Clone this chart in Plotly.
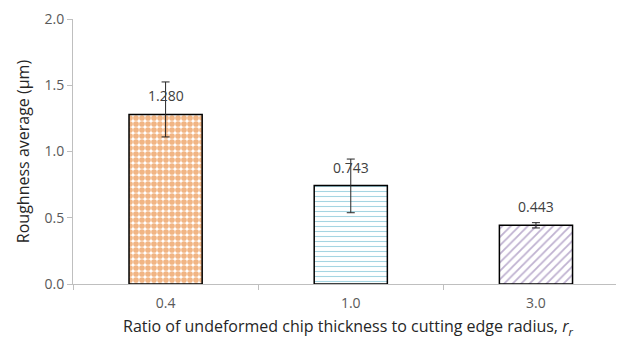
import plotly.graph_objects as go

categories = ["0.4", "1.0", "3.0"]
values = [1.280, 0.743, 0.443]
labels = ["1.280", "0.743", "0.443"]
err_plus = [0.245, 0.20, 0.02]
err_minus = [0.17, 0.205, 0.02]
colors = ["#E46C0A", "#4BACC6", "#8064A2"]
shapes = [".", "-", "/"]

fig = go.Figure()
fig.add_trace(go.Bar(
    x=categories, y=values,
    width=0.395,
    marker=dict(
        color="white",
        line=dict(color="black", width=1.5),
        pattern=dict(shape=shapes, fgcolor=colors, bgcolor="white",
                     size=[6, 5, 6], solidity=[0.7, 0.22, 0.3], fillmode="overlay"),
    ),
    error_y=dict(type="data", symmetric=False, array=err_plus, arrayminus=err_minus,
                 color="#262626", thickness=1, width=4),
    showlegend=False,
))

for i, (v, t) in enumerate(zip(values, labels)):
    fig.add_annotation(x=i, y=v, text=t, showarrow=False, yanchor="bottom", yshift=7,
                       font=dict(size=14, color="#404040", family="Open Sans, sans-serif"))

fig.update_layout(
    width=616, height=339,
    margin=dict(l=65, r=1, t=8, b=63),
    paper_bgcolor="white", plot_bgcolor="white",
    font=dict(family="Open Sans, sans-serif", color="#595959", size=13),
    xaxis=dict(
        type="category",
        range=[-0.5, 2.47],
        showline=True, linecolor="#BFBFBF", linewidth=1,
        ticks="outside", tickson="boundaries", ticklen=5, tickcolor="#BFBFBF",
        ticklabelstandoff=6,
        tickfont=dict(size=14, color="#595959"),
        title=dict(text="Ratio of undeformed chip thickness to cutting edge radius, <i>r<sub>r</sub></i>",
                   font=dict(size=16, color="#262626"), standoff=10),
    ),
    yaxis=dict(
        range=[0, 2.0001], tickvals=[0, 0.5, 1.0, 1.5, 2.0], tickformat=".1f",
        showline=True, linecolor="#BFBFBF", linewidth=1,
        ticks="outside", ticklen=5, tickcolor="#BFBFBF",
        ticklabeloverflow="allow",
        showgrid=False, zeroline=False,
        tickfont=dict(size=14, color="#595959"),
        title=dict(text="Roughness average (μm)", font=dict(size=16, color="#262626"), standoff=10),
    ),
)

fig.write_html("out.html")
